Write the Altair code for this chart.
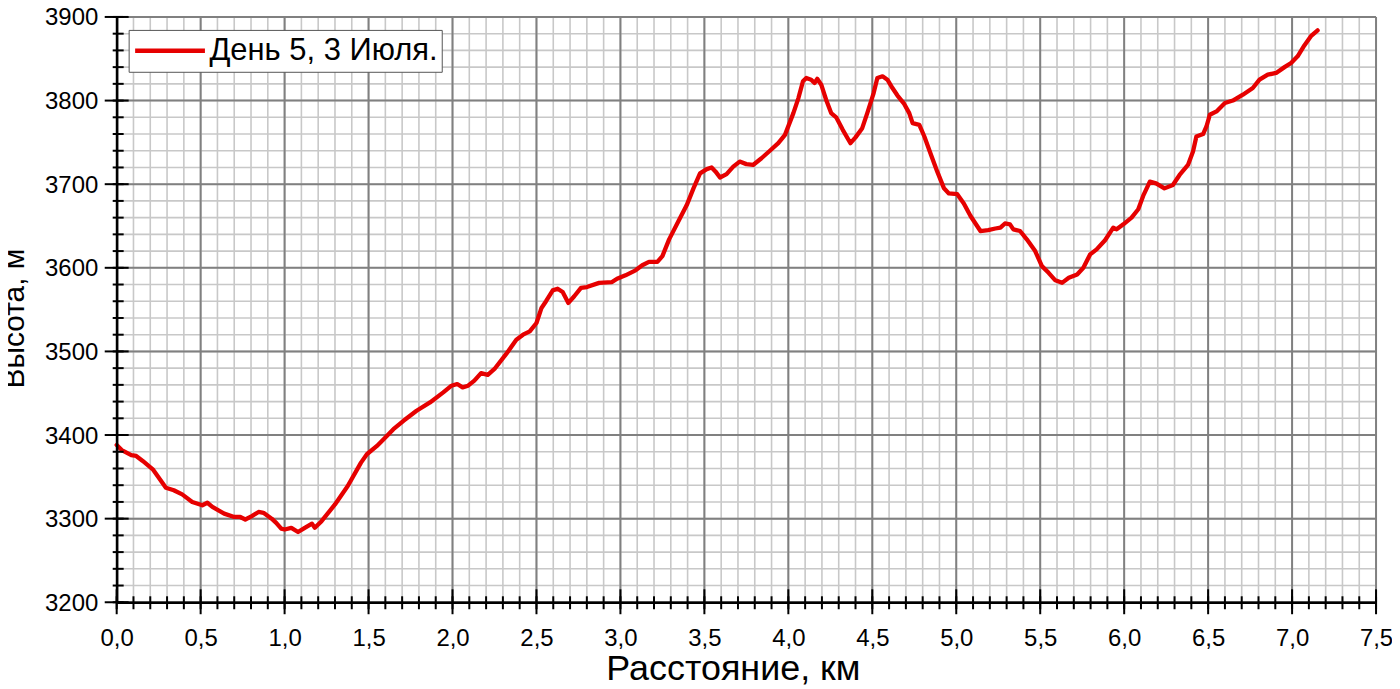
import altair as alt
import pandas as pd

# ---- data ----
distance_km = [
    0.0, 0.03, 0.087, 0.116, 0.155, 0.215, 0.293, 0.34, 0.39, 0.45, 0.51, 0.54, 0.57, 0.64,
    0.70, 0.736, 0.766, 0.805, 0.845, 0.874, 0.923, 0.95, 0.98, 1.00, 1.04, 1.08, 1.12, 1.163,
    1.18, 1.22, 1.30, 1.376, 1.455, 1.49, 1.55,
    1.60, 1.648, 1.708, 1.786, 1.866, 1.945, 1.994, 2.028, 2.06, 2.093, 2.13, 2.17, 2.21, 2.25,
    2.32, 2.38, 2.42, 2.46, 2.50, 2.53, 2.557, 2.597, 2.626, 2.656, 2.69, 2.725, 2.765, 2.80,
    2.873, 2.95, 2.98, 3.03, 3.09, 3.13, 3.17, 3.22, 3.25, 3.29,
    3.346, 3.395, 3.435, 3.474, 3.514, 3.543, 3.567, 3.593, 3.632, 3.672, 3.71, 3.75, 3.79,
    3.84, 3.89, 3.94, 3.98, 4.03, 4.06, 4.087, 4.107, 4.136, 4.156, 4.172, 4.196, 4.225, 4.255,
    4.285, 4.324, 4.37, 4.40, 4.44, 4.47, 4.508, 4.53, 4.561, 4.59, 4.62, 4.65, 4.69, 4.72,
    4.74, 4.78, 4.81, 4.85, 4.887, 4.927, 4.956, 5.006, 5.045, 5.085, 5.144, 5.19, 5.233,
    5.263, 5.29, 5.32, 5.34, 5.38, 5.42, 5.47, 5.51, 5.55, 5.59, 5.63, 5.67, 5.72, 5.757,
    5.797, 5.836, 5.886, 5.935, 5.955, 5.995, 6.044, 6.084, 6.113, 6.153, 6.19, 6.24, 6.29,
    6.33, 6.38, 6.41, 6.43, 6.47, 6.49, 6.51, 6.55, 6.60, 6.647, 6.707, 6.766, 6.806, 6.855,
    6.905, 6.955, 6.994, 7.033, 7.073, 7.112, 7.152,
]
elevation_m = [
    3388, 3382, 3376, 3375, 3369, 3359, 3337, 3334, 3329, 3320, 3316, 3319, 3314, 3306,
    3302, 3302, 3299, 3303, 3308, 3307, 3300, 3295, 3288, 3287, 3289, 3284, 3289, 3294,
    3289, 3297, 3317, 3339, 3367, 3377, 3387,
    3397, 3407, 3417, 3429, 3439, 3451, 3459, 3461, 3457, 3459, 3465, 3474, 3472, 3479,
    3497, 3514, 3520, 3524, 3534, 3552, 3560, 3573, 3575, 3571, 3558, 3566, 3576, 3577,
    3582, 3583, 3587, 3591, 3597, 3603, 3607, 3607, 3614, 3634,
    3656, 3675, 3695, 3713, 3718, 3720, 3715, 3708, 3712, 3721, 3727, 3724, 3723,
    3731, 3740, 3749, 3759, 3785, 3803, 3823, 3827, 3825, 3821, 3826, 3819, 3801, 3785,
    3780, 3765, 3749, 3756, 3767, 3785, 3809, 3827, 3829, 3825, 3815, 3806, 3796, 3785,
    3773, 3771, 3757, 3735, 3715, 3695, 3689, 3688, 3677, 3662, 3644, 3645, 3647,
    3648, 3653, 3652, 3646, 3644, 3634, 3620, 3602, 3594, 3585, 3582, 3588, 3592, 3600,
    3616, 3622, 3633, 3648, 3646, 3652, 3660, 3670, 3686, 3703, 3701, 3695, 3699,
    3711, 3723, 3739, 3757, 3760, 3769, 3783, 3787, 3797, 3800, 3807, 3815, 3825, 3831,
    3833, 3840, 3845, 3853, 3866, 3877, 3884,
]
series_name = "День 5, 3 Июля."

x_major = [0.0, 0.5, 1.0, 1.5, 2.0, 2.5, 3.0, 3.5, 4.0, 4.5, 5.0, 5.5, 6.0, 6.5, 7.0, 7.5]
x_minor = [round(i / 10, 1) for i in range(0, 76)]
y_major = [3200, 3300, 3400, 3500, 3600, 3700, 3800, 3900]
y_minor = list(range(3200, 3901, 20))

x_title = "Расстояние, км"
y_title = "Высота, м"

# ---- layout / style ----
W, H = 1263, 587
FONT = "Liberation Sans"
RED = "#e60000"
MAJOR = "#808080"
MINOR = "#c8c8c8"

xscale = alt.Scale(domain=[0, 7.5], nice=False, zero=False)
yscale = alt.Scale(domain=[3200, 3900], nice=False, zero=False)

xaxis = alt.Axis(values=x_major, title=x_title, grid=False, labelFlush=False,
                 labelExpr="replace(format(datum.value, '.1f'), '.', ',')",
                 tickSize=12, tickOpacity=0, labelPadding=12,
                 labelFontSize=24, labelFont=FONT, labelColor="black",
                 domainColor="black", domainWidth=2.5,
                 titleFont=FONT, titleFontSize=36, titleFontWeight="normal",
                 titleColor="black", titleX=618, titleY=77,
                 titleBaseline="alphabetic", zindex=1)
yaxis = alt.Axis(values=y_major, title=y_title, grid=False, format="d", labelFlush=False,
                 tickSize=12, tickOpacity=0, labelPadding=7, labelOffset=1,
                 labelFontSize=24, labelFont=FONT, labelColor="black",
                 domainColor="black", domainWidth=2.5,
                 titleFont=FONT, titleFontSize=30, titleFontWeight="normal",
                 titleColor="black", titleX=-93, titleY=302,
                 titleBaseline="alphabetic", zindex=1)

df = pd.DataFrame({"km": distance_km, "m": elevation_m, "s": series_name})
dxmaj = pd.DataFrame({"v": x_major})
dxmin = pd.DataFrame({"v": x_minor})
dymaj = pd.DataFrame({"v": y_major})
dymin = pd.DataFrame({"v": y_minor})

def X(field):
    return alt.X(field, scale=xscale, axis=xaxis, title=x_title)

def Y(field):
    return alt.Y(field, scale=yscale, axis=yaxis, title=y_title)

def vrule(data, color, width):
    return alt.Chart(data).mark_rule(color=color, strokeWidth=width).encode(x=X("v:Q"))

def hrule(data, color, width):
    return alt.Chart(data).mark_rule(color=color, strokeWidth=width).encode(y=Y("v:Q"))

minor_v = vrule(dxmin, MINOR, 1.6)
minor_h = hrule(dymin, MINOR, 1.6)
major_v = vrule(dxmaj, MAJOR, 2)
major_h = hrule(dymaj, MAJOR, 2)

line = alt.Chart(df).mark_line(strokeWidth=4.3, strokeJoin="round", strokeCap="round").encode(
    x=X("km:Q"),
    y=Y("m:Q"),
    color=alt.Color("s:N", scale=alt.Scale(domain=[series_name], range=[RED]),
                    legend=alt.Legend(title=None, orient="none", legendX=12, legendY=13,
                                      fillColor="white", strokeColor="#555555",
                                      padding=4, symbolType="stroke", symbolSize=4900,
                                      symbolStrokeWidth=4.5, labelFontSize=31,
                                      labelLimit=500, clipHeight=34,
                                      labelFont=FONT, labelColor="black", labelOffset=2)),
)

# crossing tick marks on the axes
ytick_major = alt.Chart(dymaj).mark_rule(color="black", strokeWidth=2).encode(
    y=Y("v:Q"), x=alt.value(-12), x2=alt.value(12))
ytick_minor = alt.Chart(dymin).mark_rule(color="black", strokeWidth=2).encode(
    y=Y("v:Q"), x=alt.value(-4), x2=alt.value(7))
xtick_major = alt.Chart(dxmaj).mark_rule(color="black", strokeWidth=2).encode(
    x=X("v:Q"), y=alt.value(H - 13), y2=alt.value(H + 12))
xtick_minor = alt.Chart(dxmin).mark_rule(color="black", strokeWidth=2).encode(
    x=X("v:Q"), y=alt.value(H - 6), y2=alt.value(H + 7))

chart = alt.layer(
    minor_v, minor_h, major_v, major_h, line,
    ytick_minor, ytick_major, xtick_minor, xtick_major,
).properties(
    width=W, height=H,
    autosize=alt.AutoSizeParams(type="none"),
    padding={"left": 109, "top": 8, "right": 16, "bottom": 84},
    background="white",
).configure_view(stroke=None)

chart.save("out.html", embed_options={"renderer": "svg", "actions": False})
